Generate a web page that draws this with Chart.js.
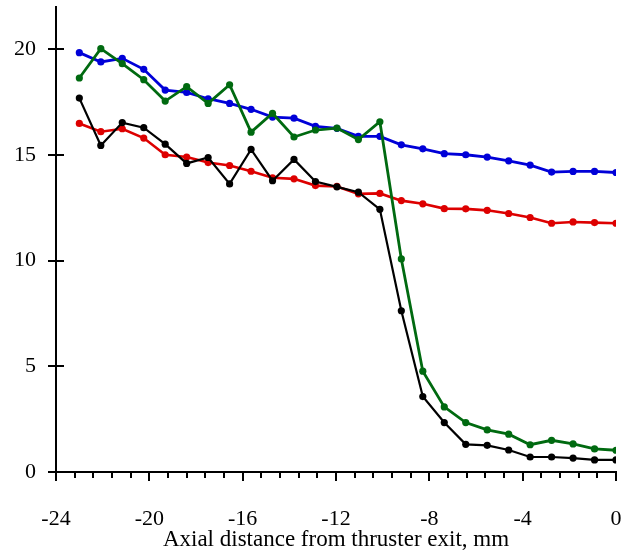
<!DOCTYPE html>
<html>
<head>
<meta charset="utf-8">
<script src="https://cdn.jsdelivr.net/npm/chart.js@4/dist/chart.umd.min.js"></script>
<style>
  html, body { margin: 0; padding: 0; background: #fff; }
  #wrap { width: 624px; height: 554px; }
</style>
</head>
<body>
<div id="wrap"><canvas id="c" width="624" height="554"></canvas></div>
<script>
// Axial positions (mm)
const xPositions = [-23.00, -22.08, -21.16, -20.24, -19.32, -18.40, -17.48, -16.56, -15.64, -14.72,
  -13.80, -12.88, -11.96, -11.04, -10.12, -9.20, -8.28, -7.36, -6.44, -5.52,
  -4.60, -3.68, -2.76, -1.84, -0.92, 0.00];

const blueValues = [19.84, 19.40, 19.57, 19.05, 18.07, 17.96, 17.66, 17.44, 17.16, 16.79,
  16.74, 16.35, 16.26, 15.88, 15.88, 15.48, 15.29, 15.06, 15.01, 14.90,
  14.72, 14.52, 14.19, 14.22, 14.22, 14.17];

const redValues = [16.49, 16.10, 16.24, 15.80, 15.01, 14.90, 14.64, 14.50, 14.23, 13.92,
  13.87, 13.55, 13.51, 13.16, 13.18, 12.84, 12.69, 12.46, 12.45, 12.38,
  12.23, 12.04, 11.77, 11.83, 11.80, 11.77];

const greenValues = [18.64, 20.03, 19.32, 18.56, 17.55, 18.23, 17.44, 18.32, 16.08, 16.97,
  15.85, 16.18, 16.27, 15.73, 16.57, 10.08, 4.77, 3.08, 2.34, 1.99,
  1.79, 1.29, 1.50, 1.33, 1.09, 1.03];

const blackValues = [17.69, 15.45, 16.53, 16.29, 15.51, 14.60, 14.88, 13.63, 15.26, 13.78,
  14.79, 13.74, 13.49, 13.24, 12.43, 7.63, 3.57, 2.34, 1.31, 1.26,
  1.04, 0.71, 0.71, 0.66, 0.57, 0.57];

const xTickMajor = [-24, -20, -16, -12, -8, -4, 0];
const yTickMajor = [0, 5, 10, 15, 20];
const xAxisTitle = 'Axial distance from thruster exit, mm';

function pts(vals) { return vals.map((v, i) => ({x: xPositions[i], y: v})); }

function ds(vals, color, width, order) {
  return {
    data: pts(vals),
    borderColor: color,
    backgroundColor: color,
    borderWidth: width,
    pointRadius: 3.6,
    pointBorderWidth: 0,
    pointHoverRadius: 3.6,
    showLine: true,
    tension: 0,
    order: order
  };
}

const FONT = '"Liberation Serif", "Times New Roman", serif';

function zeroPad(s) {
  s.paddingLeft = 0; s.paddingRight = 0; s.paddingTop = 0; s.paddingBottom = 0;
}

const tickPlugin = {
  id: 'customTicks',
  afterDraw(chart) {
    const ctx = chart.ctx;
    const xs = chart.scales.x, ys = chart.scales.y;
    const area = chart.chartArea;
    ctx.save();
    ctx.strokeStyle = '#000';
    ctx.lineWidth = 2;
    xs.ticks.forEach(t => {
      const v = t.value;
      const major = Math.abs(v / 4 - Math.round(v / 4)) < 1e-6;
      const px = Math.round(xs.getPixelForValue(v));
      ctx.beginPath();
      ctx.moveTo(px, area.bottom);
      ctx.lineTo(px, area.bottom + (major ? 9 : 6));
      ctx.stroke();
    });
    yTickMajor.forEach(v => {
      const py = Math.round(ys.getPixelForValue(v));
      ctx.beginPath();
      ctx.moveTo(area.left - 8, py);
      ctx.lineTo(area.left + 8, py);
      ctx.stroke();
    });
    ctx.restore();
  }
};

new Chart(document.getElementById('c'), {
  type: 'scatter',
  data: {
    datasets: [
      ds(blueValues, '#0000d8', 2.8, 4),
      ds(redValues, '#dd0000', 2.6, 3),
      ds(greenValues, '#006a10', 2.8, 2),
      ds(blackValues, '#000000', 2.2, 1)
    ]
  },
  options: {
    responsive: false,
    animation: false,
    devicePixelRatio: 1,
    layout: { padding: { top: 7, right: 8, left: 0, bottom: 0 } },
    plugins: { legend: { display: false }, tooltip: { enabled: false } },
    scales: {
      x: {
        type: 'linear',
        min: -24, max: 0,
        afterFit(s) { s.height = 82; zeroPad(s); },
        grid: { display: false, drawTicks: false },
        border: { display: true, color: '#000', width: 2 },
        ticks: {
          stepSize: 0.8,
          autoSkip: false,
          maxRotation: 0,
          padding: 34,
          color: '#000',
          font: { family: FONT, size: 22 },
          callback(v) {
            return Math.abs(v / 4 - Math.round(v / 4)) < 1e-6 ? String(Math.round(v)) : '';
          }
        },
        title: {
          display: true,
          text: xAxisTitle,
          color: '#000',
          font: { family: FONT, size: 23 },
          padding: { top: 0, bottom: 0 }
        }
      },
      y: {
        type: 'linear',
        min: 0, max: 22,
        afterFit(s) { s.width = 56; zeroPad(s); },
        grid: { display: false, drawTicks: false },
        border: { display: true, color: '#000', width: 2 },
        afterBuildTicks(s) { s.ticks = yTickMajor.map(v => ({value: v})); },
        ticks: {
          padding: 20,
          color: '#000',
          font: { family: FONT, size: 22 }
        }
      }
    }
  },
  plugins: [tickPlugin]
});
</script>
</body>
</html>
